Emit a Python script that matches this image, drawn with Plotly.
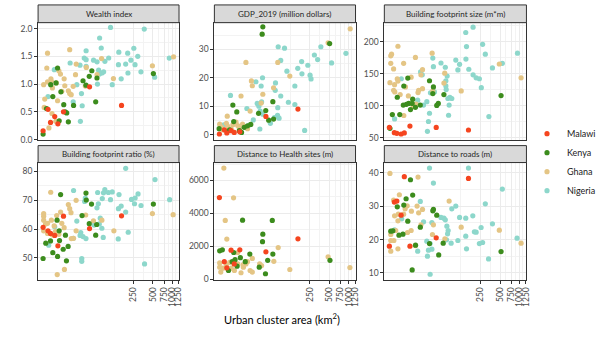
import plotly.graph_objects as go

# ---------------------------------------------------------------------------
# Urban clusters: (area in km², indicator value) per country and indicator
# ---------------------------------------------------------------------------
COUNTRIES = ["Malawi", "Kenya", "Ghana", "Nigeria"]
COLORS = {"Malawi": "#F5451F", "Kenya": "#3C8C1D",
          "Ghana": "#E4C585", "Nigeria": "#8DD7CB"}

PANEL_TITLES = ["Wealth index", "GDP_2019 (million dollars)",
                "Building footprint size (m*m)", "Building footprint ratio (%)",
                "Distance to Health sites (m)", "Distance to roads (m)"]

AREA_TICKS = [250, 500, 750, 1000, 1250]

wealth_malawi = [(9.9, 0.16), (11.8, 0.545), (12.9, 0.31), (15.0, 0.415), (16.8, 0.285),
                 (20.5, 0.50), (52, 0.95), (163, 0.615)]
wealth_kenya = [(16.6, 1.29), (56.4, 1.24), (51.5, 1.14), (67.8, 1.11), (41.2, 1.06), (45.8, 0.98),
                (13.0, 0.99), (15.7, 1.02), (18.7, 0.86), (14.0, 0.775), (20.7, 0.63), (29.4, 0.615),
                (64.8, 0.68), (21.8, 0.50), (23.0, 0.48), (11.2, 0.56), (17.6, 0.34), (24.4, 0.32),
                (9.9, 0.10), (508, 1.19)]
wealth_ghana = [(11.6, 1.556), (25.6, 1.62), (11.3, 1.29), (17.4, 1.24), (18.4, 1.18), (32.3, 1.36),
                (46.3, 1.30), (80, 1.46), (491, 1.33), (1045, 1.49), (122, 1.10), (68, 1.17),
                (31.5, 1.17), (21, 1.095), (13.1, 1.095), (11.6, 1.04), (10.1, 0.99), (13.3, 1.05),
                (15.9, 1.02), (21.5, 0.97), (29, 0.96), (44.7, 0.965), (13.8, 0.93), (19.3, 0.87),
                (24.4, 0.88), (25.6, 0.83), (27, 0.81), (10.5, 0.73), (16.6, 0.70), (10.3, 0.58),
                (13.6, 0.47), (15.6, 0.33), (12.2, 0.21)]
wealth_nigeria = [(110, 2.02), (367, 1.99), (74.5, 1.83), (79, 1.65), (46, 1.60), (253, 1.645),
                  (291, 1.50), (203, 1.556), (148, 1.574), (897, 1.468), (43, 1.468), (46, 1.44),
                  (60, 1.43), (68, 1.40), (90, 1.41), (103, 1.47), (26, 1.38), (37, 1.34), (46, 1.32),
                  (146, 1.35), (189, 1.36), (228, 1.43), (264, 1.35), (72, 1.25), (81, 1.20),
                  (74, 1.18), (86, 1.22), (14.8, 1.26), (205, 1.20), (326, 1.22), (532, 1.125),
                  (161, 1.095), (69, 1.00), (117, 0.99), (33, 0.99), (39, 0.83), (29, 0.68),
                  (40, 0.61), (11.8, 0.775), (37.5, 0.33)]

gdp_malawi = [(9.9, 0.24), (11.8, 1.7), (12.9, 0.6), (15.0, 1.4), (16.8, 0.8), (20.5, 1.0),
              (52, 6.4), (163, 9.0)]
gdp_kenya = [(46.6, 37.9), (45.5, 35.3), (505, 32.0), (16.0, 10.4), (18.4, 8.0), (40.0, 7.5),
             (51.7, 8.5), (66.6, 11.6), (16.5, 4.6), (57.4, 5.1), (68.3, 5.5), (30.3, 3.6),
             (24.0, 2.6), (20.2, 1.4), (21.8, 0.8), (9.8, 2.1), (13.1, 1.2), (14.3, 1.7), (27.0, 3.1)]
gdp_ghana = [(1050, 37.2), (478, 32.3), (79.4, 25.4), (25.5, 25.4), (122, 20.6), (31.0, 18.9),
             (32.0, 17.2), (46.6, 14.2), (21.4, 13.6), (29.6, 8.3), (68.3, 16.5), (43.9, 11.1),
             (13.1, 6.5), (10.0, 3.7), (10.7, 2.6), (12.7, 4.0), (13.4, 2.9), (16.0, 3.5),
             (17.9, 4.4), (19.0, 3.2), (22.6, 3.7), (20.2, 2.3), (27.0, 2.1), (15.1, 2.0),
             (11.2, 1.7), (24.0, 2.9)]
gdp_nigeria = [(14.7, 13.8), (80.6, 30.9), (101, 30.4), (88.2, 26.1), (186, 25.7), (232, 24.4),
               (293, 28.0), (369, 30.9), (329, 26.4), (541, 25.2), (903, 28.6), (162, 23.3),
               (188, 21.4), (110, 22.3), (251, 20.9), (260, 19.6), (46.1, 20.0), (36.4, 18.6),
               (73.2, 18.2), (43.9, 17.1), (146, 17.1), (72.5, 15.6), (88.2, 13.6), (44.6, 11.5),
               (38.1, 11.0), (26.4, 9.2), (40.5, 10.0), (116, 11.4), (146, 10.6), (79.4, 9.5),
               (42.4, 8.3), (78.7, 6.8), (70.3, 6.0), (83.2, 5.8), (61.0, 4.0), (33.2, 5.2),
               (28.9, 3.4), (41.9, 2.0), (207, 1.5), (11.6, 3.5), (46.6, 7.2)]

size_malawi = [(9.9, 66.4), (11.8, 58.2), (12.9, 57.2), (15.0, 56.1), (16.8, 57.7), (20.5, 68.4),
               (52, 66.4), (163, 62.3)]
size_kenya = [(19.0, 143.2), (16.5, 130.9), (41.0, 139.1), (47.1, 129.4), (46.1, 119.1),
              (13.1, 113.4), (68.3, 117.6), (517, 116), (22.6, 110.4), (19.6, 103.8), (16.2, 101.2),
              (18.1, 102.3), (22.2, 103.8), (29.6, 101.2), (56.0, 103.8), (53.0, 100.7), (24.9, 97.6),
              (20.9, 94.1), (11.0, 86.4), (14.3, 86.4), (10.1, 64.9)]
size_ghana = [(13.4, 192.8), (10.7, 180.5), (10.4, 177.9), (10.4, 166.3), (11.5, 157.5),
              (16.4, 166.3), (24.9, 175.5), (45.0, 182.1), (32.0, 156.4), (70.3, 150.9),
              (486, 165.2), (1050, 143.7), (10.1, 136), (13.1, 142.2), (13.4, 138.6), (11.9, 132.9),
              (21.4, 144.7), (30.3, 148.3), (11.5, 124.2), (12.0, 121.7), (14.5, 117.6),
              (17.5, 129.4), (27.9, 124.2), (32.0, 126.8), (27.3, 120.6), (46.1, 123.2),
              (126, 123.2), (19.4, 115.5), (25.5, 102.7), (23.0, 98.7), (16.5, 84.9), (68.3, 135.5)]
size_nigeria = [(192, 222.5), (148, 214.3), (152, 192.4), (269, 195.9), (296, 180.5), (925, 182.1),
                (541, 166.3), (381, 159), (149, 172.9), (104, 171.3), (119, 164.7), (61.6, 166.7),
                (71.8, 160.1), (112, 156), (165, 157), (46.1, 174.4), (47.1, 161), (29.9, 152.9),
                (76.6, 146.3), (192, 148.3), (214, 143.7), (240, 142.2), (257, 128.3), (73.2, 139.1),
                (31.7, 148.3), (15.1, 142.2), (73.2, 131), (74.0, 125.3), (84.3, 113.4),
                (90.3, 111.4), (78.7, 111.4), (82.2, 101.2), (42.4, 120.2), (48.8, 121.7),
                (37.3, 106.4), (33.2, 101.2), (27.0, 108.8), (41.0, 88.4), (80.6, 85.3),
                (336, 83.3), (39.5, 75.6), (38.1, 60.3), (11.9, 79.6)]

ratio_malawi = [(9.9, 60.6), (11.8, 59.4), (12.9, 58.5), (15.0, 57.8), (16.8, 54.2), (20.5, 64.5),
                (52, 60.2), (163, 64.6)]
ratio_kenya = [(18.5, 72.0), (45.8, 72.5), (46.3, 70.1), (55.8, 68.7), (39.8, 64.7), (51.5, 61.9),
               (67.1, 61.6), (64.8, 57.9), (22.0, 57.9), (16.3, 63.1), (17.6, 59.4), (10.9, 55.1),
               (12.9, 55.9), (17.8, 56.0), (24.2, 54.0), (20.3, 53.0), (14.0, 51.8), (16.6, 50.5),
               (9.9, 49.8), (22.8, 49.0), (508, 68.7)]
ratio_ghana = [(13.0, 72.8), (32.2, 70.0), (24.4, 68.5), (25.6, 67.1), (26.8, 65.7), (18.5, 65.9),
               (45.3, 64.9), (10.1, 65.4), (10.1, 64.5), (10.1, 63.1), (10.1, 59.4), (11.6, 62.0),
               (13.3, 63.1), (16.1, 64.7), (14.7, 61.1), (11.6, 58.5), (13.7, 58.0), (15.4, 59.1),
               (17.4, 58.2), (21.0, 60.5), (19.3, 62.0), (32.2, 59.4), (27.1, 56.7), (29.4, 56.8),
               (59.8, 62.9), (80.8, 63.1), (124, 59.4), (491, 65.4), (1030, 65.0), (16.4, 44.2),
               (21.2, 46.0), (10.8, 61.8)]
ratio_nigeria = [(189, 81.1), (539, 77.2), (29.4, 73.4), (69.5, 72.7), (89.8, 73.7), (85.7, 72.6),
                 (102, 72.7), (117, 72.9), (149, 72.0), (294, 72.2), (265, 70.8), (233, 70.3),
                 (259, 68.8), (327, 68.2), (909, 70.2), (161, 68.0), (146, 67.1), (110, 70.2),
                 (82.0, 70.6), (71.2, 68.8), (67.8, 67.4), (189, 65.9), (44.7, 70.8), (43.7, 69.6),
                 (33.0, 62.8), (76.3, 63.8), (73.7, 61.8), (61.1, 61.4), (80.8, 60.3), (84.8, 57.1),
                 (145, 56.6), (207, 58.9), (38.0, 58.8), (37.1, 57.8), (41.2, 57.4), (45.8, 56.7),
                 (39.4, 49.8), (39.4, 48.8), (371, 47.9), (15.0, 60.8), (12.1, 54.4), (29.1, 56.8)]

health_malawi = [(9.9, 4965), (11.8, 1073), (12.9, 700), (15.0, 1770), (16.8, 935), (20.5, 1788),
                 (52, 1669), (163, 2461)]
health_kenya = [(22.6, 3594), (65.3, 3576), (46.6, 2741), (46.1, 2283), (10.0, 1728), (11.0, 1788),
                (16.5, 1627), (66.6, 1530), (29.3, 1530), (55.4, 1152), (20.9, 1311), (17.3, 1192),
                (15.6, 1073), (24.9, 1073), (41.0, 735), (18.6, 795), (13.7, 536), (51.2, 338),
                (511, 1152)]
health_ghana = [(11.6, 6754), (16.4, 4946), (12.2, 3576), (12.9, 2443), (80.6, 1927), (478, 1371),
                (69.0, 1093), (1040, 715), (122, 596), (10.0, 993), (10.0, 735), (10.4, 437),
                (11.2, 675), (12.7, 874), (13.4, 596), (15.1, 675), (16.9, 536), (19.0, 935),
                (23.0, 874), (25.5, 935), (27.0, 1073), (23.3, 735), (21.4, 397), (29.6, 536),
                (32.0, 437), (32.0, 1271), (19.0, 1627), (41.6, 935), (44.6, 834), (14.3, 1033)]
health_nigeria = []

roads_malawi = [(9.9, 18.0), (11.8, 31.2), (12.9, 31.5), (15.0, 27.3), (16.8, 38.8), (20.5, 18.0),
                (52, 20.5), (163, 38.3)]
roads_kenya = [(20.9, 37.9), (22.6, 33.3), (17.9, 32.2), (13.1, 29.8), (16.5, 30.3), (47.1, 29.0),
               (46.1, 28.6), (53.0, 27.3), (19.0, 25.5), (29.6, 23.7), (10.4, 22.5), (11.2, 22.6),
               (13.9, 21.3), (16.0, 21.6), (41.0, 18.8), (66.6, 18.9), (25.0, 18.3), (56.8, 15.4),
               (22.2, 10.9), (517, 16.4)]
roads_ghana = [(10.1, 39.8), (27.3, 38.7), (14.1, 33.4), (11.5, 31.8), (82.2, 31.5), (18.6, 30.1),
               (26.4, 30.0), (17.3, 29.2), (32.0, 29.0), (21.6, 28.5), (27.9, 28.0), (11.9, 27.1),
               (13.6, 27.6), (16.4, 27.6), (13.4, 25.6), (12.4, 22.7), (18.8, 22.1), (21.4, 22.7),
               (30.3, 24.4), (47.1, 24.4), (45.5, 21.5), (126, 23.7), (486, 22.8), (1050, 18.9),
               (10.4, 21.5), (10.4, 19.7), (11.6, 19.7), (10.4, 16.5), (13.4, 17.2), (24.9, 18.2),
               (70.7, 20.2)]
roads_nigeria = [(41.0, 41.4), (163, 41.4), (47.1, 36.9), (541, 35.1), (29.6, 31.4), (296, 30.7),
                 (104, 30.0), (90.3, 29.2), (190, 27.1), (119, 26.6), (148, 26.4), (61.6, 26.6),
                 (68.3, 26.4), (71.8, 25.9), (33.2, 25.3), (44.6, 25.1), (381, 24.7), (75.9, 24.0),
                 (255, 23.6), (79.4, 22.7), (77.8, 21.7), (201, 22.3), (214, 22.2), (148, 21.0),
                 (112, 19.7), (74.9, 19.9), (88.2, 18.9), (37.3, 19.5), (41.9, 18.8), (269, 19.1),
                 (240, 18.8), (912, 20.4), (152, 17.2), (27.0, 16.5), (39.5, 16.8), (44.6, 17.1),
                 (332, 14.2), (38.1, 15.0), (41.9, 9.6), (11.9, 22.9), (15.3, 26.2)]

PANEL_DATA = [
    {"Malawi": wealth_malawi, "Kenya": wealth_kenya, "Ghana": wealth_ghana, "Nigeria": wealth_nigeria},
    {"Malawi": gdp_malawi, "Kenya": gdp_kenya, "Ghana": gdp_ghana, "Nigeria": gdp_nigeria},
    {"Malawi": size_malawi, "Kenya": size_kenya, "Ghana": size_ghana, "Nigeria": size_nigeria},
    {"Malawi": ratio_malawi, "Kenya": ratio_kenya, "Ghana": ratio_ghana, "Nigeria": ratio_nigeria},
    {"Malawi": health_malawi, "Kenya": health_kenya, "Ghana": health_ghana, "Nigeria": health_nigeria},
    {"Malawi": roads_malawi, "Kenya": roads_kenya, "Ghana": roads_ghana, "Nigeria": roads_nigeria},
]

# y scales per facet: (range, major ticks, tick format)
Y_SCALES = [
    ([-0.005, 2.106], [0, 0.5, 1.0, 1.5, 2.0], ".1f"),
    ([-1.83, 39.36], [0, 10, 20, 30], "d"),
    ([46.9, 229.6], [50, 100, 150, 200], "d"),
    ([42.4, 83.1], [50, 60, 70, 80], "d"),
    ([-30, 7090], [0, 2000, 4000, 6000], "d"),
    ([7.94, 43.04], [10, 20, 30, 40], "d"),
]

# ---------------------------------------------------------------------------
# Layout geometry (pixels)
# ---------------------------------------------------------------------------
W, H = 601, 338
COL_PX = [(39, 183.3), (219.5, 364), (393.5, 539)]
ROW_PX = [(23, 142), (165, 284)]
STRIP_PX = [(5, 23), (147.8, 165)]
FONT = "Lato, 'Open Sans', sans-serif"
BORDER = "#333333"
GRID = "#EBEBEB"
GRID_MINOR = "#F3F3F3"
MARKER_SIZE = 5.2


def px_x(v):
    return v / W


def px_y(v):
    return 1 - v / H


fig = go.Figure()
layout_axes = {}
shapes = []
annotations = []

draw_order = ["Nigeria", "Ghana", "Kenya", "Malawi"]
legend_rank = {c: i + 1 for i, c in enumerate(COUNTRIES)}

for i, title in enumerate(PANEL_TITLES):
    r, c = divmod(i, 3)
    n = i + 1
    xname = "x" if n == 1 else f"x{n}"
    yname = "y" if n == 1 else f"y{n}"

    for country in draw_order:
        pts = PANEL_DATA[i][country]
        fig.add_trace(go.Scatter(
            x=[p[0] for p in pts], y=[p[1] for p in pts],
            mode="markers", name=country, legendgroup=country,
            legendrank=legend_rank[country],
            showlegend=(i == 0),
            marker=dict(size=MARKER_SIZE, color=COLORS[country], line=dict(width=0)),
            xaxis=xname, yaxis=yname, cliponaxis=True,
        ))

    x0, x1 = COL_PX[c]
    yt, yb = ROW_PX[r]
    bottom = r == 1
    layout_axes["xaxis" if n == 1 else f"xaxis{n}"] = dict(
        type="log", range=[0.918, 3.104], domain=[px_x(x0), px_x(x1)], anchor=yname,
        tickmode="array", tickvals=AREA_TICKS, ticktext=[str(t) for t in AREA_TICKS],
        showticklabels=bottom, ticks="outside" if bottom else "", ticklen=3,
        tickcolor=BORDER, tickwidth=1, tickangle=-90,
        tickfont=dict(family=FONT, size=8.5, color="#4D4D4D"),
        showgrid=True, gridcolor=GRID, gridwidth=1,
        minor=dict(tickmode="array", tickvals=[125, 354, 612, 866, 1118],
                   showgrid=True, gridcolor=GRID_MINOR, gridwidth=0.8, ticks=""),
        showline=True, mirror=True, linecolor=BORDER, linewidth=1, zeroline=False,
    )
    yr, yticks, yfmt = Y_SCALES[i]
    step = yticks[1] - yticks[0]
    minor_vals = [yticks[0] - step / 2] + [t + step / 2 for t in yticks]
    layout_axes["yaxis" if n == 1 else f"yaxis{n}"] = dict(
        range=yr, domain=[px_y(yb), px_y(yt)], anchor=xname,
        tickmode="array", tickvals=yticks, tickformat=yfmt,
        ticks="outside", ticklen=3, tickcolor=BORDER, tickwidth=1,
        tickfont=dict(family=FONT, size=8.5, color="#4D4D4D"),
        showgrid=True, gridcolor=GRID, gridwidth=1,
        minor=dict(tickmode="array", tickvals=minor_vals, showgrid=True,
                   gridcolor=GRID_MINOR, gridwidth=0.8, ticks=""),
        showline=True, mirror=True, linecolor=BORDER, linewidth=1, zeroline=False,
    )

    # facet strip
    st, sb = STRIP_PX[r]
    shapes.append(dict(type="rect", xref="paper", yref="paper",
                       x0=px_x(x0), x1=px_x(x1), y0=px_y(sb), y1=px_y(st),
                       fillcolor="#D9D9D9", line=dict(color=BORDER, width=1), layer="above"))
    annotations.append(dict(text=title, xref="paper", yref="paper",
                            x=px_x((x0 + x1) / 2), y=px_y((st + sb) / 2),
                            xanchor="center", yanchor="middle", showarrow=False,
                            font=dict(family=FONT, size=8, color="#262626")))

annotations.append(dict(text="Urban cluster area (km<sup>2</sup>)", xref="paper", yref="paper",
                        x=px_x(289), y=px_y(323), xanchor="center", yanchor="middle",
                        showarrow=False, font=dict(family=FONT, size=11, color="#000000")))

fig.update_layout(
    width=W, height=H, margin=dict(l=0, r=0, t=0, b=0),
    paper_bgcolor="white", plot_bgcolor="white",
    showlegend=True,
    legend=dict(x=px_x(540), y=px_y(121), xanchor="left", yanchor="top",
                font=dict(family=FONT, size=9, color="#1A1A1A"),
                bgcolor="rgba(0,0,0,0)", itemsizing="trace", traceorder="normal"),
    shapes=shapes, annotations=annotations,
    **layout_axes,
)

fig.write_html("out.html")
